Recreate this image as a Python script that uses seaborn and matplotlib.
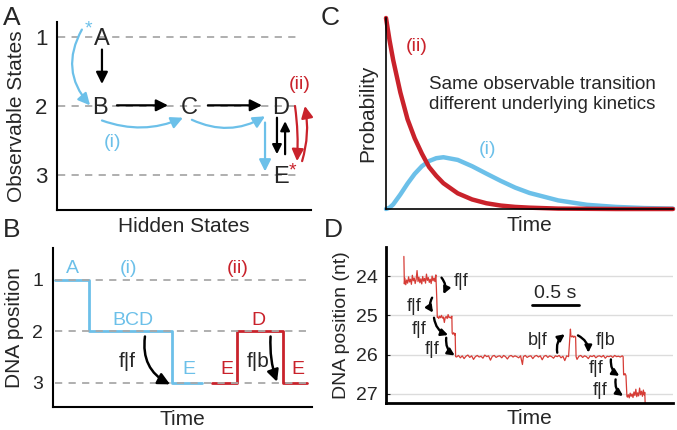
import numpy as np
import pandas as pd
import matplotlib
matplotlib.use('Agg')
import matplotlib.pyplot as plt
import seaborn as sns

BLUE = '#6cc0e9'
RED = '#c9222b'
TRACE = '#d63c36'
GREY = '#a9a9a9'

# A: hidden states sitting on observable levels
states = ['A', 'B', 'C', 'D', 'E']
state_x = [1.75, 1.70, 5.20, 8.80, 8.80]
state_level = [1, 2, 2, 2, 3]
levels = [1, 2, 3]

# B: idealised DNA position traces for path (i) and path (ii)
path_i_time = [0.08, 1.39, 4.59, 5.75]
path_i_pos = [1, 2, 3, 3]
path_ii_time = [6.14, 7.10, 8.88, 9.81]
path_ii_pos = [3, 2, 3, 3]

# C: dwell time distributions
dwell_t = [0, 0.125, 0.25, 0.5, 0.75, 1.0, 1.25, 1.5, 1.75, 2.0, 2.5, 3.0,
           3.5, 4.0, 4.5, 5.0, 6.0, 7.0, 8.0, 9.0, 10.0]
prob_ii = [1.0, .882, .78, .61, .47, .37, .29, .22, .174, .135, .082, .05,
           .03, .018, .011, .007, .002, .001, 0, 0, 0]
prob_i = [0, .007, .024, .076, .133, .184, .224, .251, .266, .271, .257, .224,
          .185, .147, .112, .084, .045, .022, .011, .005, .002]

# D: measured trace (s, nt)
trace_t = [0.190, 0.195, 0.20, 0.21, 0.22, 0.23, 0.24, 0.25, 0.26, 0.27, 0.28, 0.29,
           0.30, 0.31, 0.32, 0.33, 0.34, 0.35, 0.36, 0.37, 0.38, 0.39, 0.40, 0.41,
           0.42, 0.43, 0.44, 0.45, 0.46, 0.47, 0.48, 0.49, 0.50, 0.51, 0.52, 0.53,
           0.535, 0.54, 0.545,
           0.55, 0.56, 0.57, 0.58, 0.59, 0.60, 0.61, 0.62, 0.63, 0.64, 0.65, 0.66,
           0.67, 0.68, 0.69, 0.70, 0.703, 0.71, 0.72, 0.73, 0.735, 0.74,
           0.75, 0.77, 0.79, 0.81, 0.83, 0.85, 0.87, 0.89, 0.91, 0.93, 0.95, 0.97,
           0.99, 1.01, 1.03, 1.05, 1.07, 1.09, 1.11, 1.13, 1.15, 1.17, 1.19, 1.21,
           1.23, 1.25, 1.27, 1.29, 1.31, 1.33, 1.35, 1.37, 1.39, 1.41, 1.43, 1.45,
           1.46, 1.48, 1.50, 1.52, 1.54, 1.56, 1.58, 1.60, 1.62, 1.64, 1.66, 1.68,
           1.70, 1.72, 1.74, 1.76, 1.78, 1.80, 1.82, 1.84, 1.86, 1.88, 1.90, 1.92,
           1.94, 1.955, 1.96, 1.965, 1.975, 1.985, 1.995, 2.005, 2.015, 2.02,
           2.03, 2.05, 2.07, 2.09, 2.11, 2.13, 2.15, 2.17, 2.19, 2.21, 2.23, 2.25,
           2.27, 2.29, 2.31, 2.33, 2.35, 2.37, 2.39, 2.41, 2.43, 2.45, 2.47, 2.49,
           2.51, 2.52, 2.525, 2.53, 2.54, 2.55, 2.56,
           2.565, 2.575, 2.585, 2.595, 2.605, 2.615, 2.625, 2.635, 2.645, 2.655,
           2.665, 2.675, 2.685, 2.695, 2.705, 2.715, 2.725, 2.735, 2.745, 2.75, 2.755]
trace_nt = [23.50, 24.20, 24.05, 24.22, 24.10, 24.18, 24.02, 24.15, 24.08, 24.21, 23.98, 24.12,
            24.05, 24.19, 24.09, 23.86, 24.14, 24.03, 24.17, 24.07, 24.20, 24.01, 24.13, 24.06,
            24.18, 23.95, 24.11, 24.04, 24.16, 24.08, 24.19, 24.00, 24.12, 24.05, 24.14, 23.97,
            24.30, 24.60, 25.05,
            25.03, 25.08, 25.02, 25.06, 25.00, 25.07, 25.04, 25.18, 25.05, 25.03, 25.08, 24.98,
            25.06, 25.04, 25.07, 25.02, 25.45, 25.48, 25.44, 25.50, 25.46, 26.05,
            26.06, 26.02, 26.08, 26.03, 26.10, 26.04, 26.01, 26.07, 26.03, 26.12, 26.05, 26.02,
            26.06, 26.04, 26.09, 26.01, 26.05, 26.03, 26.14, 26.04, 26.02, 26.07, 26.04, 26.03,
            26.08, 26.02, 26.05, 26.11, 26.04, 26.02, 26.06, 26.03, 26.05, 26.08, 26.03, 26.25,
            26.05, 26.02, 26.07, 26.04, 26.03, 26.10, 26.04, 26.02, 26.06, 26.03, 26.13, 26.04,
            26.02, 26.07, 26.03, 26.05, 26.09, 26.03, 26.05, 26.02, 26.08, 26.04, 26.15, 26.03,
            26.05, 25.50, 25.35, 25.52, 25.55, 25.52, 25.56, 25.53, 25.55, 26.05,
            26.12, 26.04, 26.02, 26.07, 26.03, 26.05, 26.10, 26.03, 26.05, 26.02, 26.08, 26.04,
            26.03, 26.06, 26.02, 26.09, 26.04, 26.05, 26.03, 26.07, 26.02, 26.05, 26.04, 26.06,
            26.03, 26.05, 26.50, 26.52, 26.48, 26.53, 27.05,
            27.08, 27.02, 27.10, 26.98, 27.06, 27.00, 27.09, 26.95, 27.04, 26.88,
            27.07, 26.97, 27.05, 26.85, 27.02, 26.93, 27.06, 26.90, 27.03, 26.96, 27.30]
nt_ticks = [24, 25, 26, 27]


def px_axes(fig, x0, y0, x1, y1):
    W, H = 677, 430
    return fig.add_axes([x0 / W, 1 - y1 / H, (x1 - x0) / W, (y1 - y0) / H])


def arrow(ax, start, end, color='black', rad=0.0, lw=1.6, ms=14):
    ax.annotate('', xy=end, xytext=start,
                arrowprops=dict(arrowstyle='-|>,head_length=0.5,head_width=0.25',
                                color=color, lw=lw, mutation_scale=ms,
                                shrinkA=0, shrinkB=0,
                                connectionstyle=f'arc3,rad={rad}'))


def style_axes(ax, lw):
    sns.despine(ax=ax)
    for s in ['left', 'bottom']:
        ax.spines[s].set_linewidth(lw)
        ax.spines[s].set_color('black')


sns.set_style('ticks')
plt.rcParams['font.family'] = ['Liberation Sans', 'DejaVu Sans']

fig = plt.figure(figsize=(6.77, 4.30), dpi=100)

# ---------------- A ----------------
axA = px_axes(fig, 57, 22, 311, 210)
axA.set_xlim(0, 10)
axA.set_ylim(3.51, 0.78)
axA.hlines(levels, 0.04, 9.57, colors=GREY, linestyles=(0, (4, 3.5)), lw=1.3)
for s, x, lv in zip(states, state_x, state_level):
    axA.text(x, lv + 0.03, s, ha='center', va='center', fontsize=17)

arrow(axA, (1.77, 1.18), (1.77, 1.68))
arrow(axA, (2.36, 1.99), (4.37, 1.99))
arrow(axA, (5.94, 1.99), (8.07, 1.99))
arrow(axA, (8.66, 2.17), (8.66, 2.70), ms=11)
arrow(axA, (8.98, 2.70), (8.98, 2.22), ms=11)

arrow(axA, (0.98, 0.89), (1.30, 1.99), color=BLUE, rad=0.35)
arrow(axA, (1.77, 2.21), (4.96, 2.17), color=BLUE, rad=0.2)
arrow(axA, (5.31, 2.20), (8.19, 2.15), color=BLUE, rad=0.26)
arrow(axA, (8.19, 2.24), (8.19, 2.95), color=BLUE)
arrow(axA, (9.37, 2.0), (9.45, 2.80), color=RED, rad=-0.05)
arrow(axA, (9.65, 2.80), (9.76, 2.0), color=RED, rad=0.12)

axA.text(1.22, 0.88, '*', color=BLUE, fontsize=14, ha='center', va='center')
axA.text(9.29, 2.94, '*', color=RED, fontsize=14, ha='center', va='center')
axA.text(2.17, 2.53, '(i)', color=BLUE, fontsize=14, ha='center', va='center')
axA.text(9.57, 1.69, '(ii)', color=RED, fontsize=14, ha='center', va='center')

axA.set_yticks(levels)
axA.set_xticks([])
axA.tick_params(axis='y', length=0, pad=7, labelsize=16)
axA.set_ylabel('Observable States', fontsize=15, labelpad=6)
axA.set_xlabel('Hidden States', fontsize=15, labelpad=5)
style_axes(axA, 1.5)

# ---------------- B ----------------
axB = px_axes(fig, 53, 248, 312, 407)
axB.set_xlim(0, 10)
axB.set_ylim(3.47, 0.38)
sns.lineplot(x=path_i_time, y=path_i_pos, ax=axB, color=BLUE, lw=2,
             drawstyle='steps-post', estimator=None, sort=False)
sns.lineplot(x=path_ii_time, y=path_ii_pos, ax=axB, color=RED, lw=2,
             drawstyle='steps-post', estimator=None, sort=False)
axB.hlines(levels, 0.08, 9.92, colors=GREY, linestyles=(0, (4, 3.5)), lw=1.3, zorder=3)

for txt, x, y, c in [('A', 0.77, 0.77, BLUE), ('(i)', 2.9, 0.77, BLUE),
                     ('(ii)', 7.14, 0.77, RED), ('BCD', 3.09, 1.78, BLUE),
                     ('E', 5.25, 2.75, BLUE), ('E', 6.72, 2.75, RED),
                     ('D', 7.95, 1.78, RED), ('E', 9.46, 2.75, RED)]:
    axB.text(x, y, txt, color=c, fontsize=14, ha='center', va='center')
axB.text(2.86, 2.59, 'f|f', fontsize=15, ha='center', va='center')
axB.text(7.92, 2.59, 'f|b', fontsize=15, ha='center', va='center')
arrow(axB, (3.55, 2.10), (4.52, 3.03), rad=0.35, lw=1.8)
arrow(axB, (8.40, 2.10), (8.65, 2.98), rad=0.1, lw=1.8)

axB.set_yticks(levels)
axB.set_xticks([])
axB.tick_params(axis='y', length=0, pad=7, labelsize=14)
axB.set_ylabel('DNA position', fontsize=15, labelpad=6)
axB.set_xlabel('Time', fontsize=15, labelpad=2)
style_axes(axB, 1.5)

# ---------------- C ----------------
axC = px_axes(fig, 386, 18, 673, 209)
axC.set_xlim(0, 10)
axC.set_ylim(0, 1.0)
dfC = pd.DataFrame({'t': dwell_t, 'i': prob_i, 'ii': prob_ii})
sns.lineplot(data=dfC, x='t', y='i', ax=axC, color=BLUE, lw=3.2, clip_on=False)
sns.lineplot(data=dfC, x='t', y='ii', ax=axC, color=RED, lw=3.2, clip_on=False)
axC.text(1.08, 0.85, '(ii)', color=RED, fontsize=14, ha='center', va='center')
axC.text(3.52, 0.31, '(i)', color=BLUE, fontsize=14, ha='center', va='center')
axC.text(1.5, 0.60, 'Same observable transition\ndifferent underlying kinetics',
         fontsize=13.5, ha='left', va='center', linespacing=1.2)
axC.set_xticks([])
axC.set_yticks([])
axC.set_ylabel('Probability', fontsize=15, labelpad=6)
axC.set_xlabel('Time', fontsize=15, labelpad=5)
style_axes(axC, 1.2)

# ---------------- D ----------------
axD = px_axes(fig, 386, 247, 673, 403)
axD.set_xlim(0, 3.05)
axD.set_ylim(27.23, 23.26)
axD.hlines(nt_ticks, 0, 3.05, colors='#dcdcdc', lw=1, zorder=0)
sns.lineplot(x=trace_t, y=trace_nt, ax=axD, color=TRACE, lw=0.9,
             estimator=None, sort=False)
axD.plot([1.55, 2.05], [24.74, 24.74], color='black', lw=2)
axD.text(1.80, 24.45, '0.5 s', fontsize=14, ha='center', va='center')

d_labels = ['f|f', 'f|f', 'f|f', 'f|f', 'b|f', 'f|b', 'f|f', 'f|f']
d_text_t = [0.80, 0.30, 0.35, 0.49, 1.61, 2.33, 2.23, 2.28]
d_text_nt = [24.14, 24.78, 25.37, 25.88, 25.63, 25.63, 26.35, 26.90]
d_arrows = [((0.59, 24.04), (0.61, 24.46), -0.3),
            ((0.49, 24.55), (0.50, 24.93), 0.3),
            ((0.51, 25.06), (0.66, 25.50), 0.3),
            ((0.64, 25.57), (0.73, 26.02), 0.3),
            ((1.82, 25.95), (1.90, 25.48), -0.3),
            ((2.04, 25.51), (2.15, 25.95), -0.3),
            ((2.39, 26.12), (2.48, 26.54), 0.3),
            ((2.44, 26.63), (2.52, 27.05), 0.3)]
for lab, tx, ty, (a0, a1, r) in zip(d_labels, d_text_t, d_text_nt, d_arrows):
    axD.text(tx, ty, lab, fontsize=13, ha='center', va='center')
    arrow(axD, a0, a1, rad=r, lw=1.7, ms=8)

axD.set_yticks(nt_ticks)
axD.set_xticks([])
axD.tick_params(axis='y', direction='in', length=3, pad=6, labelsize=14)
axD.set_ylabel('DNA position (nt)', fontsize=14, labelpad=4)
axD.set_xlabel('Time', fontsize=15, labelpad=4)
style_axes(axD, 2)

# panel letters
for lab, x, y in [('A', 12, 18), ('B', 12, 230), ('C', 330, 18), ('D', 333, 230)]:
    fig.text(x / 677, 1 - y / 430, lab, fontsize=19, ha='center', va='center')

fig.savefig('out.png', dpi=100)
